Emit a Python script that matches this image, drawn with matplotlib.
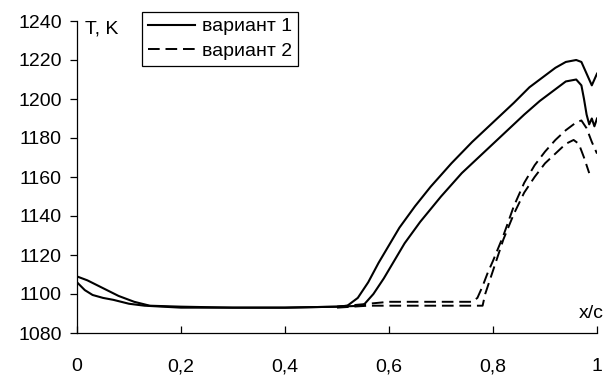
import matplotlib
matplotlib.use("Agg")
from matplotlib import pyplot as plt

plt.rcParams['font.family'] = ['Liberation Sans', 'DejaVu Sans']

# variant 1, two curves (solid)
x1a = [0, 0.02, 0.05, 0.08, 0.11, 0.14, 0.2, 0.3, 0.4, 0.5, 0.52, 0.54, 0.56, 0.58,
       0.6, 0.62, 0.65, 0.68, 0.72, 0.76, 0.8, 0.84, 0.87, 0.9, 0.92, 0.94, 0.96,
       0.97, 0.98, 0.99, 1.0]
t1a = [1109, 1107, 1103, 1099, 1096, 1094, 1093.5, 1093, 1093, 1093.5, 1094, 1098, 1106, 1116,
       1125, 1134, 1145, 1155, 1167, 1178, 1188, 1198, 1206, 1212, 1216, 1219, 1220,
       1219, 1213, 1207, 1213]
x1b = [0, 0.015, 0.03, 0.05, 0.07, 0.1, 0.13, 0.2, 0.3, 0.4, 0.5, 0.55, 0.57, 0.59,
       0.61, 0.63, 0.66, 0.7, 0.74, 0.78, 0.82, 0.86, 0.89, 0.92, 0.94, 0.96, 0.97,
       0.975, 0.98, 0.985, 0.99, 0.995, 1.0]
t1b = [1106, 1102, 1099.5, 1098, 1097, 1095, 1094, 1093, 1093, 1093, 1093.5, 1094, 1100, 1108,
       1117, 1126, 1137, 1150, 1162, 1172, 1182, 1192, 1199, 1205, 1209, 1210, 1207,
       1200, 1192, 1187, 1190, 1186, 1190]

# variant 2, two curves (dashed)
x2a = [0.5, 0.56, 0.6, 0.7, 0.76, 0.77, 0.78, 0.79, 0.8, 0.82, 0.84, 0.86, 0.88, 0.9,
       0.92, 0.94, 0.96, 0.97, 0.98, 0.99, 1.0]
t2a = [1093.5, 1095, 1096, 1096, 1096, 1098, 1104, 1111, 1117, 1130, 1145, 1157, 1166, 1173,
       1179, 1184, 1188, 1189, 1185, 1178, 1172]
x2b = [0.5, 0.56, 0.7, 0.78, 0.785, 0.8, 0.82, 0.84, 0.86, 0.88, 0.9, 0.92, 0.94, 0.955,
       0.965, 0.975, 0.985]
t2b = [1093, 1094, 1094, 1094, 1100, 1112, 1128, 1141, 1152, 1160, 1167, 1172, 1177, 1179,
       1177, 1170, 1162]

xticks = [0, 0.2, 0.4, 0.6, 0.8, 1]
xtick_labels = ['0', '0,2', '0,4', '0,6', '0,8', '1']
yticks = list(range(1080, 1241, 20))

fig = plt.figure(figsize=(6.06, 3.76), dpi=100)
ax = fig.add_axes([77 / 606, 1 - 333 / 376, 520 / 606, 312 / 376])

ax.plot(x1a, t1a, color='black', lw=1.5, label='вариант 1')
ax.plot(x1b, t1b, color='black', lw=1.5)
ax.plot(x2a, t2a, color='black', lw=1.4, dashes=(6, 3), label='вариант 2')
ax.plot(x2b, t2b, color='black', lw=1.4, dashes=(6, 3))

ax.set_xlim(0, 1)
ax.set_ylim(1080, 1240)
ax.set_xticks(xticks)
ax.set_xticklabels(xtick_labels)
ax.set_yticks(yticks)

for s in ['top', 'right']:
    ax.spines[s].set_visible(False)
for s in ['left', 'bottom']:
    ax.spines[s].set_linewidth(0.9)

ax.tick_params(axis='y', direction='out', length=5, width=0.9, pad=6, labelsize=14)
ax.tick_params(axis='x', direction='in', length=5, width=0.9, pad=18, labelsize=14)

fig.text(85 / 606, 1 - 29 / 376, 'T, K', fontsize=14, va='center', ha='left')
fig.text(604 / 606, 1 - 313 / 376, 'x/c', fontsize=14, va='center', ha='right')

leg = ax.legend(loc='upper left', bbox_to_anchor=(142 / 606, 1 - 12 / 376),
                bbox_transform=fig.transFigure, borderaxespad=0, fontsize=14,
                fancybox=False, framealpha=1, edgecolor='black',
                handlelength=2.4, handletextpad=0.4, borderpad=0.3, labelspacing=0.35)
leg.get_frame().set_linewidth(0.9)

fig.savefig('out.png', dpi=100)
